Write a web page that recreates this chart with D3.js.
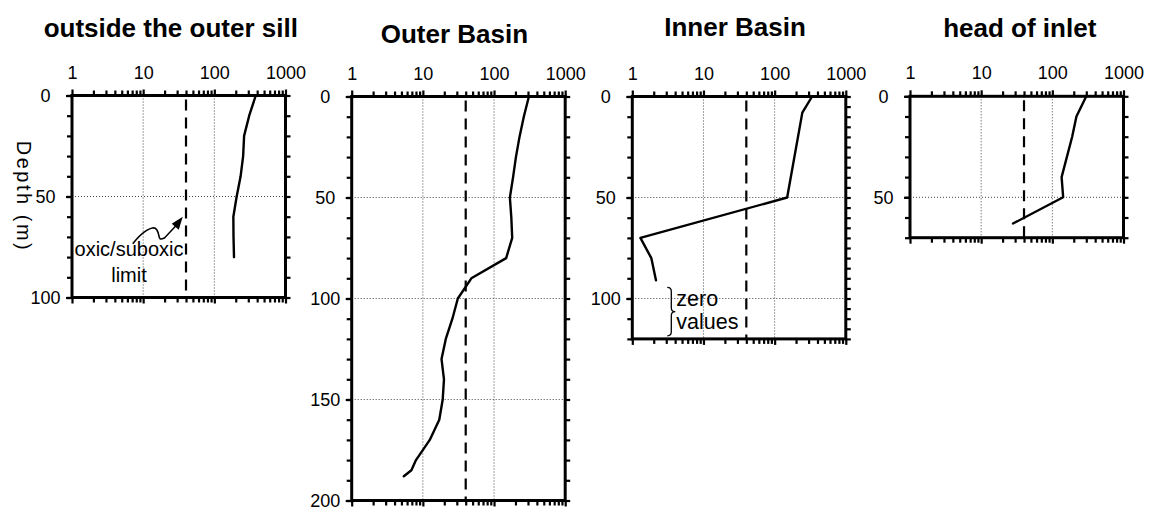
<!DOCTYPE html>
<html>
<head>
<meta charset="utf-8">
<script src="https://cdn.jsdelivr.net/npm/d3@7"></script>
<style>
  html, body { margin: 0; padding: 0; background: #fff; }
  svg { display: block; }
  .tick text { font-family: "Liberation Sans", Arial, Helvetica, sans-serif; }
</style>
</head>
<body>
<svg id="chart" width="1154" height="516"></svg>
<script>
// ---------------- data ----------------
const stations = ["outside the outer sill", "Outer Basin", "Inner Basin", "head of inlet"];
const depthMax = [100, 200, 120, 70];
const xTickLabels = ["1", "10", "100", "1000"];
const xTickValues = [1, 10, 100, 1000];
const oxicLimit = 40;

const sillDepth = [0, 10, 20, 30, 40, 50, 60, 70, 80];
const sillValue = [382, 309, 262, 254, 234, 206, 185, 186, 189];

const outerDepth = [0, 10, 20, 30, 40, 50, 60, 70, 80, 90, 100, 110, 120, 130, 140, 150, 160, 170, 180, 185, 188];
const outerValue = [309, 262, 228, 203, 185, 167, 175, 180, 148, 48, 31, 26, 21, 18.3, 19.8, 19, 17, 12.5, 8, 6.9, 5.4];

const innerDepth = [0, 8, 50, 70, 80, 91];
const innerValue = [336, 245, 150, 1.3, 1.85, 2.15];

const headDepth = [0, 10, 20, 40, 50, 63];
const headValue = [300, 218, 190, 135, 142, 28];

const profiles = [
  { depth: sillDepth, value: sillValue },
  { depth: outerDepth, value: outerValue },
  { depth: innerDepth, value: innerValue },
  { depth: headDepth, value: headValue }
];

// ---------------- layout ----------------
const panelLeft = [72, 351.7, 632.3, 910];
const panelWidth = 213.5;
const panelTop = [95.5, 96.5, 96.5, 96.3];
const pxPerMetre = 2.02;
const titleDx = [-8, -4, -4, 3];
const titleY = [37, 43, 36, 36.5];
const rightMinorStep = [10, 10, 5, 10];

const FONT = '"Liberation Sans", Arial, Helvetica, sans-serif';

const svg = d3.select("#chart");

const minorX = [];
[1, 10, 100].forEach(d => { for (let k = 2; k <= 9; k++) minorX.push(d * k); });

stations.forEach((name, i) => {
  const x0 = panelLeft[i], y0 = panelTop[i];
  const h = depthMax[i] * pxPerMetre;
  const x = d3.scaleLog().domain([1, 1000]).range([x0, x0 + panelWidth]);
  const y = d3.scaleLinear().domain([0, depthMax[i]]).range([y0, y0 + h]);
  const g = svg.append("g");

  // grid (dotted)
  const gridX = [10, 100];
  g.selectAll(".gx").data(gridX).enter().append("line")
    .attr("x1", d => x(d)).attr("x2", d => x(d))
    .attr("y1", y0).attr("y2", y0 + h)
    .attr("stroke", "#444").attr("stroke-width", 1).attr("stroke-dasharray", "1,2");
  const gridY = d3.range(50, depthMax[i], 50);
  g.selectAll(".gy").data(gridY).enter().append("line")
    .attr("x1", x0).attr("x2", x0 + panelWidth)
    .attr("y1", d => y(d)).attr("y2", d => y(d))
    .attr("stroke", "#444").attr("stroke-width", 1).attr("stroke-dasharray", "1,2");

  // oxic/suboxic dashed limit
  g.append("line")
    .attr("x1", x(oxicLimit)).attr("x2", x(oxicLimit))
    .attr("y1", y0 + 4).attr("y2", y0 + h)
    .attr("stroke", "#000").attr("stroke-width", 2.2).attr("stroke-dasharray", "11,7");

  // axes
  const axisStyle = sel => {
    sel.select(".domain").remove();
    sel.selectAll(".tick line").attr("stroke", "#000").attr("stroke-width", 2.2);
  };
  // top minor
  g.append("g").attr("transform", `translate(0,${y0})`)
    .call(d3.axisTop(x).tickValues(minorX).tickSize(5).tickFormat(""))
    .call(axisStyle);
  // top major with labels
  g.append("g").attr("transform", `translate(0,${y0})`)
    .call(d3.axisTop(x).tickValues(xTickValues).tickSize(6).tickPadding(11)
      .tickFormat((d, j) => xTickLabels[j]))
    .call(axisStyle)
    .call(s => s.selectAll("text").attr("font-size", 18).attr("fill", "#000").attr("font-family", FONT));
  // bottom minor + major
  g.append("g").attr("transform", `translate(0,${y0 + h})`)
    .call(d3.axisBottom(x).tickValues(minorX).tickSize(5).tickFormat(""))
    .call(axisStyle);
  g.append("g").attr("transform", `translate(0,${y0 + h})`)
    .call(d3.axisBottom(x).tickValues(xTickValues).tickSize(6).tickFormat(""))
    .call(axisStyle);
  // left
  const yMinor = d3.range(0, depthMax[i] + 0.001, 10);
  g.append("g").attr("transform", `translate(${x0},0)`)
    .call(d3.axisLeft(y).tickValues(yMinor).tickSize(5).tickFormat(""))
    .call(axisStyle);
  const yMajor = d3.range(0, depthMax[i] + 0.001, 50);
  g.append("g").attr("transform", `translate(${x0},0)`)
    .call(d3.axisLeft(y).tickValues(yMajor).tickSize(6).tickPadding(12).tickFormat(d3.format("d")))
    .call(axisStyle)
    .call(s => s.selectAll("text").attr("font-size", 18).attr("fill", "#000").attr("font-family", FONT)
      .attr("text-anchor", "middle").attr("dx", "-0.47em"));
  // right
  const yRight = d3.range(0, depthMax[i] + 0.001, rightMinorStep[i]);
  g.append("g").attr("transform", `translate(${x0 + panelWidth},0)`)
    .call(d3.axisRight(y).tickValues(yRight).tickSize(5).tickFormat(""))
    .call(axisStyle);

  // frame
  g.append("rect")
    .attr("x", x0).attr("y", y0).attr("width", panelWidth).attr("height", h)
    .attr("fill", "none").attr("stroke", "#000").attr("stroke-width", 3);

  // profile line
  const p = profiles[i];
  const pts = p.depth.map((d, j) => [p.value[j], d]);
  g.append("path").datum(pts)
    .attr("d", d3.line().x(d => x(d[0])).y(d => y(d[1])))
    .attr("fill", "none").attr("stroke", "#000").attr("stroke-width", 2.4)
    .attr("stroke-linejoin", "round").attr("stroke-linecap", "round");

  // title
  svg.append("text")
    .attr("x", x0 + panelWidth / 2 + titleDx[i]).attr("y", titleY[i])
    .attr("text-anchor", "middle")
    .attr("font-family", FONT).attr("font-weight", "bold").attr("font-size", 26)
    .text(name);

  // annotations
  if (i === 0) {
    const tipX = x(36), tipY = y(60);
    const sx = tipX - 50, sy = tipY + 27;
    g.append("path")
      .attr("d", `M${sx},${sy} C${sx + 8},${sy - 10} ${sx + 20},${sy - 20} ${sx + 24},${sy - 14} ` +
                 `S${sx + 24},${sy - 2} ${sx + 32},${sy - 6} L${tipX - 5},${tipY + 7}`)
      .attr("fill", "none").attr("stroke", "#000").attr("stroke-width", 1.6);
    g.append("path")
      .attr("d", `M${tipX},${tipY} L${tipX - 11},${tipY + 7} L${tipX - 4},${tipY + 13} Z`)
      .attr("fill", "#000");
    g.append("text").attr("x", x0 + 57).attr("y", y0 + 160)
      .attr("text-anchor", "middle").attr("font-family", FONT).attr("font-size", 20)
      .text("oxic/suboxic");
    g.append("text").attr("x", x0 + 57).attr("y", y0 + 186)
      .attr("text-anchor", "middle").attr("font-family", FONT).attr("font-size", 20)
      .text("limit");
    // y axis title
    svg.append("text")
      .attr("transform", `translate(${x0 - 55},${y0 + 101}) rotate(90)`)
      .attr("text-anchor", "middle").attr("font-family", FONT).attr("font-size", 20)
      .attr("letter-spacing", 2.5)
      .text("Depth (m)");
  }
  if (i === 2) {
    const bx = x0 + 35, by1 = y(94.5), by2 = y(118.5), bm = (by1 + by2) / 2;
    g.append("path")
      .attr("d", `M${bx},${by1} Q${bx + 4},${by1} ${bx + 4},${by1 + 4} L${bx + 4},${bm - 4} Q${bx + 4},${bm} ${bx + 8},${bm} ` +
                 `Q${bx + 4},${bm} ${bx + 4},${bm + 4} L${bx + 4},${by2 - 4} Q${bx + 4},${by2} ${bx},${by2}`)
      .attr("fill", "none").attr("stroke", "#000").attr("stroke-width", 1.3);
    g.append("text").attr("x", bx + 9).attr("y", y(103.5))
      .attr("font-family", FONT).attr("font-size", 21.5).text("zero");
    g.append("text").attr("x", bx + 9).attr("y", y(115))
      .attr("font-family", FONT).attr("font-size", 21.5).text("values");
  }
});
</script>
</body>
</html>
